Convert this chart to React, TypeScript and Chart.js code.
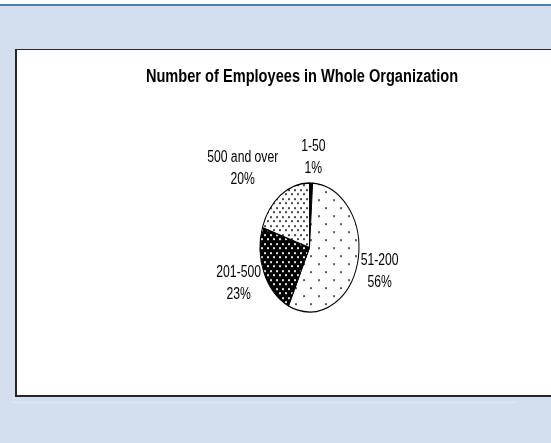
import React, { useEffect, useRef } from 'react';
import { Chart, registerables } from 'chart.js';

Chart.register(...registerables);

// ---- data ----
const CATEGORIES = ['1-50', '51-200', '201-500', '500 and over'];
const SHARES = [1, 56, 23, 20];
const TITLE = 'Number of Employees in Whole Organization';

// ---- style constants ----
const SY = 1.303; // vertical stretch of the picture (ellipse)
const RX = 49.5; // horizontal radius of the pie
const TEXT_SY = 1.28;
const FONT = '"Liberation Sans", Arial, sans-serif';
// label nudges (dx, dy of first baseline) from the slice's mid edge point
const NUDGE: [number, number][] = [
  [2.3, -32.3],
  [22.2, 1.6],
  [-25.4, 4.3],
  [-37.7, -33.3],
];

function makePattern(
  w: number,
  h: number,
  bg: string,
  fg: string,
  dots: [number, number, number, number][]
): CanvasPattern | string {
  const c = document.createElement('canvas');
  c.width = w;
  c.height = h;
  const g = c.getContext('2d');
  if (!g) return bg;
  g.fillStyle = bg;
  g.fillRect(0, 0, w, h);
  g.fillStyle = fg;
  dots.forEach(([x, y, dw, dh]) => g.fillRect(x, y, dw, dh));
  const p = g.createPattern(c, 'repeat');
  if (!p) return bg;
  try {
    p.setTransform(new DOMMatrix().scale(1, 1 / SY));
  } catch (e) {
    /* ignore */
  }
  return p;
}

const ellipsePlugin = {
  id: 'ellipseAndText',
  beforeDatasetsDraw(chart: any) {
    const arc = chart.getDatasetMeta(0).data[0];
    const ctx = chart.ctx;
    ctx.save();
    ctx.translate(arc.x, arc.y);
    ctx.scale(1, SY);
    ctx.translate(-arc.x, -arc.y);
  },
  afterDatasetsDraw(chart: any) {
    chart.ctx.restore();
  },
  afterDraw(chart: any) {
    const ctx: CanvasRenderingContext2D = chart.ctx;
    // title
    ctx.save();
    ctx.fillStyle = '#000';
    ctx.textAlign = 'center';
    ctx.textBaseline = 'alphabetic';
    ctx.font = `bold 14.6px ${FONT}`;
    ctx.translate(285, 32.3);
    ctx.scale(1, TEXT_SY);
    ctx.fillText(TITLE, 0, 0);
    ctx.restore();

    // data labels
    const meta = chart.getDatasetMeta(0);
    meta.data.forEach((arc: any, i: number) => {
      const mid = (arc.startAngle + arc.endAngle) / 2;
      const r = arc.outerRadius;
      const ex = arc.x + r * Math.cos(mid);
      const ey = arc.y + r * SY * Math.sin(mid);
      const [dx, dy] = NUDGE[i];
      const lines = [CATEGORIES[i], `${SHARES[i]}%`];
      ctx.save();
      ctx.fillStyle = '#000';
      ctx.textAlign = 'center';
      ctx.textBaseline = 'alphabetic';
      ctx.font = `12.2px ${FONT}`;
      lines.forEach((t, k) => {
        ctx.save();
        ctx.translate(ex + dx, ey + dy + k * 21.8);
        ctx.scale(1, TEXT_SY);
        ctx.fillText(t, 0, 0);
        ctx.restore();
      });
      ctx.restore();
    });
  },
};

export default function App() {
  const ref = useRef<HTMLCanvasElement>(null);

  useEffect(() => {
    if (!ref.current) return;
    const fills = [
      '#000000',
      makePattern(15, 16, '#ffffff', '#5a5a5a', [
        [1, 1, 2, 2],
        [8, 9, 2, 2],
      ]),
      makePattern(6, 9, '#000000', '#e2e2e2', [
        [1, 1, 2, 2],
        [4, 5, 2, 2],
      ]),
      makePattern(6, 9, '#ffffff', '#4a4a4a', [
        [1, 1, 2, 2],
        [4, 5, 2, 2],
      ]),
    ];
    const chart = new Chart(ref.current, {
      type: 'pie',
      data: {
        labels: CATEGORIES,
        datasets: [
          {
            data: SHARES,
            backgroundColor: fills as any,
            borderColor: '#000',
            borderWidth: 1,
            radius: RX,
          } as any,
        ],
      },
      options: {
        responsive: false,
        animation: false,
        events: [],
        layout: { padding: { left: 13, right: 0, top: 50, bottom: 0 } },
        plugins: {
          legend: { display: false },
          tooltip: { enabled: false },
          title: { display: false },
        },
      } as any,
      plugins: [ellipsePlugin],
    });
    return () => chart.destroy();
  }, []);

  return (
    <div
      style={{
        position: 'fixed',
        left: 0,
        top: 0,
        width: 551,
        height: 443,
        overflow: 'hidden',
        background: '#d3dfee',
      }}
    >
      <div style={{ position: 'absolute', left: 0, top: 0, width: 551, height: 4, background: '#ffffff' }} />
      <div style={{ position: 'absolute', left: 0, top: 4, width: 551, height: 2, background: '#4a7ebb' }} />
      <div
        style={{
          position: 'absolute',
          left: 11,
          top: 402,
          width: 506,
          height: 1,
          background: '#dfe7f3',
        }}
      />
      <div
        style={{
          position: 'absolute',
          left: 15,
          top: 49,
          width: 620,
          height: 348,
          boxSizing: 'border-box',
          background: '#ffffff',
          borderLeft: '2px solid #262626',
          borderTop: '1px solid #262626',
          borderBottom: '2px solid #262626',
        }}
      />
      <canvas
        ref={ref}
        width={572}
        height={345}
        style={{ position: 'absolute', left: 17, top: 50, display: 'block', width: 572, height: 345 }}
      />
    </div>
  );
}
